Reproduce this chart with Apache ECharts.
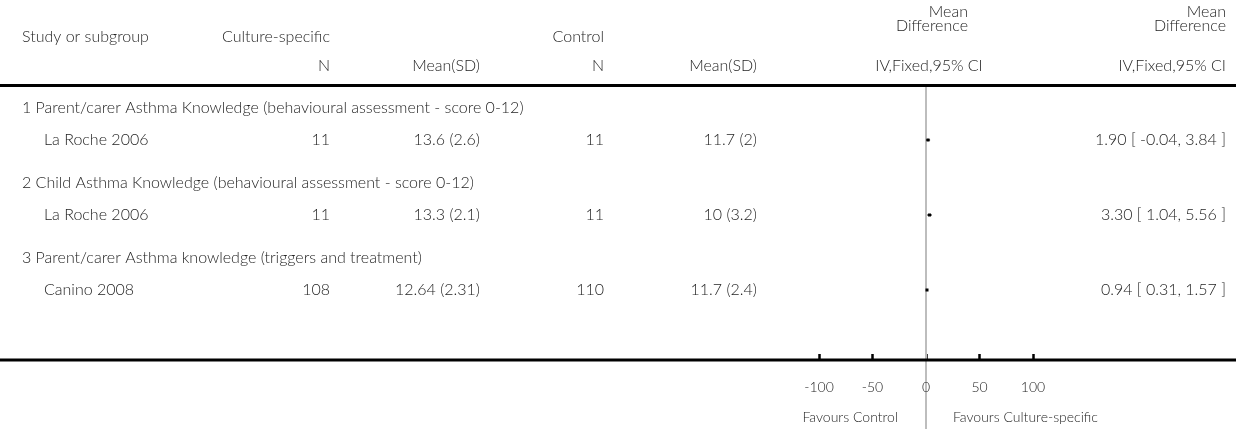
<!DOCTYPE html>
<html>
<head>
<meta charset="utf-8">
<script src="https://cdn.jsdelivr.net/npm/echarts@6/dist/echarts.min.js"></script>
<style>
html,body{margin:0;padding:0;background:#fff;}
#c{width:1236px;height:429px;}
</style>
</head>
<body>
<div id="c"></div>
<script>
// ---- data ----
const subgroups = [
  '1 Parent/carer Asthma Knowledge (behavioural assessment - score 0-12)',
  '2 Child Asthma Knowledge (behavioural assessment - score 0-12)',
  '3 Parent/carer Asthma knowledge (triggers and treatment)'
];
const studies = ['La Roche 2006', 'La Roche 2006', 'Canino 2008'];
const csN = ['11', '11', '108'];
const csMeanSD = ['13.6 (2.6)', '13.3 (2.1)', '12.64 (2.31)'];
const ctlN = ['11', '11', '110'];
const ctlMeanSD = ['11.7 (2)', '10 (3.2)', '11.7 (2.4)'];
const md = [1.90, 3.30, 0.94];
const ciLow = [-0.04, 1.04, 0.31];
const ciHigh = [3.84, 5.56, 1.57];
const ciText = ['1.90 [ -0.04, 3.84 ]', '3.30 [ 1.04, 5.56 ]', '0.94 [ 0.31, 1.57 ]'];
const tickValues = [-100, -50, 0, 50, 100];
const favours = ['Favours Control', 'Favours Culture-specific'];

// ---- layout ----
const FONT = 'Lato';
const FW = 300;
const FS = 16;
const COLOR = '#1e1e1e';
const GRID_TOP = 87, AXIS_Y = 360, ROW0 = 140, ROWSTEP = 75, H = 429;
const yMin = (GRID_TOP - ROW0) / ROWSTEP;
const yMax = (AXIS_Y - ROW0) / ROWSTEP;

const chart = echarts.init(document.getElementById('c'), null, {renderer: 'canvas'});

const pts = md.map((v, i) => [v, i, ciLow[i], ciHigh[i]]);

chart.setOption({
  animation: false,
  backgroundColor: '#fff',
  grid: {left: 819, right: 203, top: GRID_TOP, bottom: H - AXIS_Y},
  xAxis: {
    type: 'value', min: -100, max: 100, interval: 50,
    position: 'bottom',
    axisLine: {show: false, onZero: false},
    axisTick: {show: true, inside: true, length: 6, lineStyle: {color: '#000', width: 2.5}, customValues: tickValues},
    axisLabel: {
      margin: 20, fontSize: 14, fontFamily: FONT, fontWeight: FW, color: COLOR,
      customValues: tickValues
    },
    splitLine: {show: false}
  },
  yAxis: {type: 'value', inverse: true, min: yMin, max: yMax, show: false},
  series: [{
    type: 'custom',
    data: pts,
    renderItem: function (params, api) {
      const y = api.value(1);
      const c = api.coord([api.value(0), y]);
      const l = api.coord([api.value(2), y]);
      const r = api.coord([api.value(3), y]);
      return {
        type: 'group',
        children: [
          {type: 'line', shape: {x1: l[0], y1: c[1], x2: r[0], y2: c[1]}, style: {stroke: '#000', lineWidth: 1}},
          {type: 'rect', shape: {x: c[0] - 1.5, y: c[1] - 1.5, width: 3, height: 3}, style: {fill: '#000'}}
        ]
      };
    },
    markLine: {
      silent: true, symbol: 'none', label: {show: false}, z: 1,
      lineStyle: {color: '#bdbdbd', width: 2, type: 'solid'},
      data: [{xAxis: 0}]
    }
  }]
});

function txt(text, x, y, align, size) {
  return {
    type: 'text', silent: true,
    style: {
      text: text, x: x, y: y, align: align || 'left', verticalAlign: 'middle',
      fontSize: size || FS, fontFamily: FONT, fontWeight: FW, fill: COLOR
    }
  };
}

const els = [];
const x0 = chart.convertToPixel({xAxisIndex: 0}, 0);
// zero line continuation below the axis
els.push({type: 'line', silent: true, z: -1, shape: {x1: x0, y1: AXIS_Y, x2: x0, y2: H}, style: {stroke: '#bdbdbd', lineWidth: 2}});
// headers
els.push(txt('Mean', 968, 12, 'right'));
els.push(txt('Difference', 968, 26, 'right'));
els.push(txt('Mean', 1226, 12, 'right'));
els.push(txt('Difference', 1226, 26, 'right'));
els.push(txt('Study or subgroup', 22, 37, 'left'));
els.push(txt('Culture-specific', 330, 37, 'right'));
els.push(txt('Control', 604, 37, 'right'));
els.push(txt('N', 330, 66, 'right'));
els.push(txt('Mean(SD)', 480, 66, 'right'));
els.push(txt('N', 604, 66, 'right'));
els.push(txt('Mean(SD)', 757, 66, 'right'));
els.push(txt('IV,Fixed,95% CI', 929, 66, 'center'));
els.push(txt('IV,Fixed,95% CI', 1226, 66, 'right'));
// rules
els.push({type: 'line', silent: true, z: 10, shape: {x1: 0, y1: 85.5, x2: 1236, y2: 85.5}, style: {stroke: '#000', lineWidth: 3}});
els.push({type: 'line', silent: true, z: 10, shape: {x1: 0, y1: AXIS_Y, x2: 1236, y2: AXIS_Y}, style: {stroke: '#000', lineWidth: 3}});
// rows
for (let i = 0; i < studies.length; i++) {
  const yRow = chart.convertToPixel({yAxisIndex: 0}, i);
  const ySub = chart.convertToPixel({yAxisIndex: 0}, i - 32 / ROWSTEP);
  els.push(txt(subgroups[i], 22, ySub, 'left'));
  els.push(txt(studies[i], 44, yRow, 'left'));
  els.push(txt(csN[i], 330, yRow, 'right'));
  els.push(txt(csMeanSD[i], 480, yRow, 'right'));
  els.push(txt(ctlN[i], 604, yRow, 'right'));
  els.push(txt(ctlMeanSD[i], 757, yRow, 'right'));
  els.push(txt(ciText[i], 1226, yRow, 'right'));
}
els.push(txt(favours[0], x0 - 28, 417, 'right', 14));
els.push(txt(favours[1], x0 + 27, 417, 'left', 14));

chart.setOption({graphic: {elements: els}});
</script>
</body>
</html>
